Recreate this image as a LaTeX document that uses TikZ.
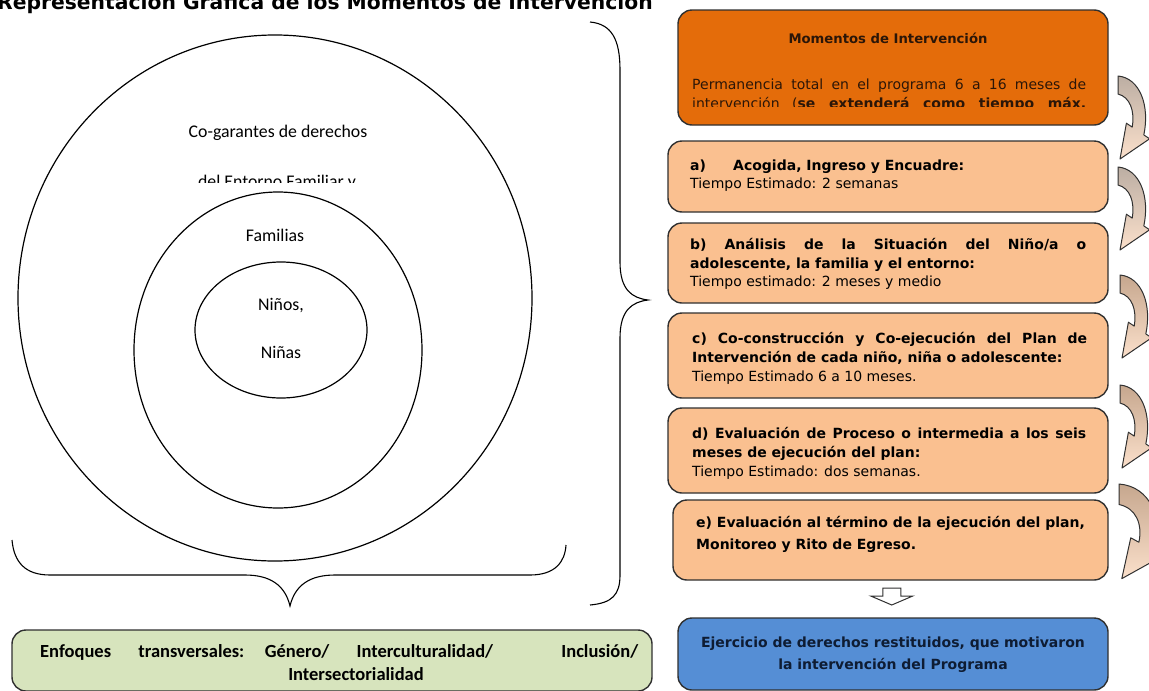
\documentclass[tikz,border=0pt]{standalone}
\usepackage{fontspec}
\setmainfont{DejaVu Sans}
\newfontfamily\carl{Carlito}
\usetikzlibrary{calc,shapes.geometric}
\definecolor{topor}{HTML}{E46C0A}
\definecolor{lightor}{HTML}{FAC090}
\definecolor{resblue}{HTML}{558ED5}
\definecolor{enfgreen}{HTML}{D7E4BD}
\definecolor{bord}{HTML}{303030}
\definecolor{arrgrey}{HTML}{BCAEA3}
\definecolor{arrbrown}{HTML}{C6A78E}
\definecolor{arrbot}{HTML}{FBE0CB}
\definecolor{darkbrown}{HTML}{2B1608}
\definecolor{navy}{HTML}{0E1C33}
\tikzset{
  stagebox/.style={draw=bord, line width=1.4pt, rounded corners=14pt, fill=lightor, inner sep=0pt},
  ln/.style={anchor=base west, inner sep=0pt, font=\fontsize{14}{17}\selectfont},
  lnc/.style={anchor=base, inner sep=0pt, font=\fontsize{14}{17}\selectfont},
  ringtxt/.style={anchor=base, inner sep=0pt, font=\carl\fontsize{17.8}{21}\selectfont},
  ring/.style={draw=black, line width=1.2pt},
  curvarrow/.style={draw=bord, line width=1pt, bottom color=arrbot, line join=round},
  brace/.style={draw=black, line width=1.1pt},
  enftxt/.style={inner sep=0pt, font=\carl\bfseries\fontsize{18.5}{22}\selectfont}
}
% #1,#2 = top-left of tail, #3 = top colour, #4 = extra transform
\newcommand{\curvedarrow}[4]{%
  \path[curvarrow, top color=#3, shift={(#1,#2)}, #4] (0,0) .. controls (22,2) and (32,30) .. (25.8,58.9) -- (31.6,62.8) -- (2,83) -- (8.4,47.2) -- (14.2,51.1) .. controls (17,35) and (12,21) .. (0,18) -- cycle;}
\begin{document}
\begin{tikzpicture}[x=1pt,y=-1pt]
\path[use as bounding box] (0,0) rectangle (1149,691);
\clip (0,0) rectangle (1149,691);
% title (cut at top)
\node[anchor=base west, inner sep=0pt, font=\bfseries\fontsize{20.3}{24}\selectfont] (title) at (-3,9) {Representación Gráfica de los Momentos de Intervención};
% circles
\node[ring, ellipse, minimum width=514pt, minimum height=526pt] (outer) at (275,298) {};
\node[ring, ellipse, minimum width=288pt, minimum height=316pt] (middle) at (278,350) {};
\node[ring, ellipse, minimum width=172pt, minimum height=136pt] (inner) at (281,330) {};
\node[ringtxt] (cog) at (278,137) {Co-garantes de derechos};
\begin{scope}
\clip (150,150) rectangle (450,182);
\node[ringtxt] (ent) at (277,187) {del Entorno Familiar y};
\end{scope}
\node[ringtxt] (fam) at (275,241) {Familias};
\node[ringtxt] (ninos) at (281,310) {Niños,};
\node[ringtxt] (ninas) at (281,358) {Niñas};
% braces
\path[brace] (590,22) .. controls (612,24) and (620,40) .. (620,70) -- (620,262) .. controls (620,290) and (632,298) .. (648,300) .. controls (632,302) and (620,310) .. (620,338) -- (620,575) .. controls (620,595) and (612,603) .. (590,605);
\path[brace] (12,540) .. controls (14,562) and (25,575) .. (50,575) -- (245,575) .. controls (270,575) and (285,585) .. (290,606) .. controls (295,585) and (310,575) .. (335,575) -- (530,575) .. controls (555,575) and (565,562) .. (566,545);
% top box
\node[stagebox, fill=topor, minimum width=430pt, minimum height=115pt] (top) at (893,67.5) {};
\node[lnc, font=\bfseries\fontsize{13.2}{16}\selectfont, text=darkbrown] (toph) at (888,43) {Momentos de Intervención};
\node[ln, text=darkbrown] (topl1) at (692,89) {\makebox[394pt][s]{Permanencia total en el programa 6 a 16 meses de}};
\begin{scope}
\clip (680,92) rectangle (1100,106);
\node[ln, text=darkbrown] (topl2) at (692,108) {\makebox[394pt][s]{intervención (\textbf{se extenderá como tiempo máx.}}};
\end{scope}
% stage boxes
\node[stagebox, minimum width=440pt, minimum height=71pt] (a) at (888,176.5) {};
\node[ln] (a1) at (690,170) {\bfseries\makebox[43pt][l]{a)}Acogida, Ingreso y Encuadre:};
\node[ln] (a2) at (690,188) {Tiempo Estimado: 2 semanas};
\node[stagebox, minimum width=440pt, minimum height=80pt] (b) at (888,263) {};
\node[ln] (b1) at (690,249) {\bfseries\makebox[396pt][s]{b) Análisis de la Situación del Niño/a o}};
\node[ln] (b2) at (690,268) {\bfseries adolescente, la familia y el entorno:};
\node[ln] (b3) at (690,286) {Tiempo estimado: 2 meses y medio};
\node[stagebox, minimum width=440pt, minimum height=85pt] (c) at (888,355.5) {};
\node[ln] (c1) at (692,343) {\bfseries\makebox[395pt][s]{c) Co-construcción y Co-ejecución del Plan de}};
\node[ln] (c2) at (692,362) {\bfseries Intervención de cada niño, niña o adolescente:};
\node[ln] (c3) at (692,381) {Tiempo Estimado 6 a 10 meses.};
\node[stagebox, minimum width=440pt, minimum height=85pt] (d) at (888,450.5) {};
\node[ln] (d1) at (692,438) {\bfseries\makebox[394pt][s]{d) Evaluación de Proceso o intermedia a los seis}};
\node[ln] (d2) at (692,457) {\bfseries meses de ejecución del plan:};
\node[ln] (d3) at (692,476) {Tiempo Estimado: dos semanas.};
\node[stagebox, minimum width=435pt, minimum height=80pt] (e) at (890.5,540) {};
\node[ln] (e1) at (696,527) {\bfseries e) Evaluación al término de la ejecución del plan,};
\node[ln] (e2) at (696,549) {\bfseries Monitoreo y Rito de Egreso.};
% result box
\node[stagebox, fill=resblue, minimum width=430pt, minimum height=72pt] (res) at (893,654) {};
\node[lnc, text=navy, font=\bfseries\fontsize{14}{17}\selectfont] (res1) at (893,647) {Ejercicio de derechos restituidos, que motivaron};
\node[lnc, text=navy, font=\bfseries\fontsize{14}{17}\selectfont] (res2) at (893,669) {la intervención del Programa};
% block arrow between e and res
\coordinate (ba) at ($(e.south)!0.5!(res.north)$);
\path[draw=bord, line width=1pt, fill=white] ($(ba)+(-9,-11)$) -- ($(ba)+(9,-11)$) -- ($(ba)+(9,-3)$) -- ($(ba)+(21,-3)$) -- ($(ba)+(0,6)$) -- ($(ba)+(-21,-3)$) -- ($(ba)+(-9,-3)$) -- cycle;
% green box
\node[stagebox, fill=enfgreen, minimum width=640pt, minimum height=61pt] (enf) at (332,660.5) {};
\node[enftxt, anchor=base west] (enf1) at (40,657) {\hbox to 598pt{Enfoques\hspace{\stretch{2}}transversales:\hspace{\stretch{1.5}}Género/\hspace{\stretch{2}}Interculturalidad/\hspace{\stretch{5}}Inclusión/}};
\node[enftxt, anchor=base] (enf2) at (356,680) {Intersectorialidad};
% curved arrows
\curvedarrow{1118}{76}{arrgrey}{}
\curvedarrow{1118}{167}{arrgrey}{}
\curvedarrow{1120}{275}{arrbrown}{}
\curvedarrow{1120}{385}{arrbrown}{}
\curvedarrow{1119}{484}{arrbrown}{xscale=1.4, yscale=1.14}
\end{tikzpicture}
\end{document}
